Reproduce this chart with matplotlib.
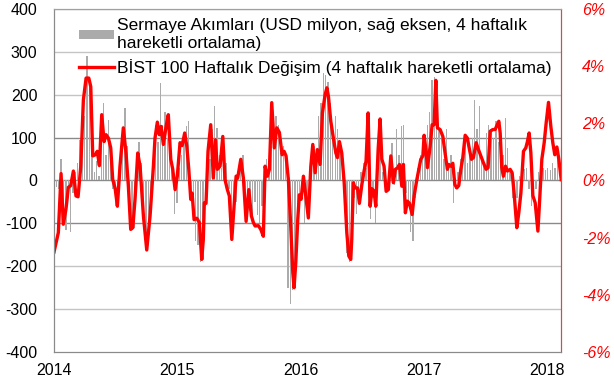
import numpy as np
import matplotlib.pyplot as plt

plt.rcParams['font.family'] = ['Liberation Sans', 'DejaVu Sans']

# haftalık sermaye akımları (USD milyon, 4 haftalık ort.), ocak 2014'ten itibaren
flows = [
    -10, -15, -20, 50, -70, -115, -40, -120, -30, 20,
    40, 95, 110, 150, 290, 220, 170, 20, 45, 10,
    80, 180, 60, 140, 70, -20, -60, -30, 30, 100,
    170, 80, -40, -90, -110, 30, 90, 40, -100, -150,
    -120, -30, 60, 130, 90, 227, 130, 160, 100, 142,
    40, -79, -52, 30, 60, 90, 128, 138, -40, -80,
    -140, -150, -190, -185, -60, 30, 50, 120, 173, 123,
    60, 30, 20, 40, -20, -80, -100, -50, 20, 30,
    60, -60, -90, -70, -100, -50, -80, -100, -60, -20,
    49, 40, 80, 110, 150, 130, 100, 80, 40, -250,
    -288, -255, -220, -90, -60, -30, -100, -60, 20, 60,
    80, 40, 150, 180, 250, 245, 230, 180, 130, 150,
    120, 90, 30, -60, -170, -190, -120, -40, -79, -30,
    20, 40, 30, -60, -90, -40, -100, 40, 70, 20,
    10, -20, 40, 88, -10, 119, 60, 126, 130, -30,
    -60, -121, -141, -40, 30, 60, 60, 100, 130, 160,
    235, 240, 180, 120, 100, 50, 120, 40, 60, -52,
    -20, 20, 50, 60, 90, 40, 60, 100, 188, 119,
    173, 60, 40, 110, 130, 120, 100, 138, 90, 80,
    60, 146, 76, 30, -40, -60, -40, 10, 26, 26,
    30, -20, -60, -40, -20, 20, 20, 30, 25, 30,
    25, 40, 30, 50,
]
flow_start = 2014.0
week = 7 / 365.25

# BIST 100 haftalık değişim (%, 4 haftalık ort.)
bist_year = [
    2014.000, 2014.035, 2014.057, 2014.075, 2014.097, 2014.116, 2014.135, 2014.157,
    2014.178, 2014.195, 2014.217, 2014.238, 2014.260, 2014.282, 2014.298, 2014.314,
    2014.335, 2014.351, 2014.368, 2014.387, 2014.406, 2014.422, 2014.441, 2014.460,
    2014.476, 2014.495, 2014.514, 2014.535, 2014.562, 2014.584, 2014.603, 2014.622,
    2014.639, 2014.657, 2014.679, 2014.698, 2014.725, 2014.752, 2014.779, 2014.806,
    2014.819, 2014.838, 2014.854, 2014.868, 2014.887, 2014.909, 2014.927, 2014.947,
    2014.963, 2014.982, 2015.000, 2015.022, 2015.039, 2015.060, 2015.077, 2015.093,
    2015.109, 2015.120, 2015.136, 2015.158, 2015.179, 2015.198, 2015.211, 2015.219,
    2015.233, 2015.249, 2015.271, 2015.292, 2015.309, 2015.325, 2015.347, 2015.369,
    2015.387, 2015.406, 2015.422, 2015.442, 2015.460, 2015.477, 2015.490, 2015.515,
    2015.536, 2015.558, 2015.580, 2015.601, 2015.617, 2015.631, 2015.658, 2015.677,
    2015.698, 2015.712, 2015.731, 2015.747, 2015.766, 2015.787, 2015.807, 2015.828,
    2015.850, 2015.866, 2015.882, 2015.901, 2015.920, 2015.937, 2015.947, 2015.961,
    2015.977, 2015.990, 2016.004, 2016.023, 2016.042, 2016.063, 2016.083, 2016.099,
    2016.118, 2016.136, 2016.158, 2016.177, 2016.199, 2016.213, 2016.226, 2016.245,
    2016.266, 2016.286, 2016.299, 2016.315, 2016.334, 2016.353, 2016.375, 2016.391,
    2016.407, 2016.415, 2016.428, 2016.442, 2016.461, 2016.477, 2016.497, 2016.515,
    2016.531, 2016.548, 2016.564, 2016.580, 2016.596, 2016.610, 2016.629, 2016.645,
    2016.659, 2016.677, 2016.694, 2016.712, 2016.732, 2016.753, 2016.769, 2016.789,
    2016.802, 2016.821, 2016.834, 2016.850, 2016.866, 2016.883, 2016.905, 2016.921,
    2016.943, 2016.959, 2016.975, 2016.992, 2017.002, 2017.018, 2017.029, 2017.051,
    2017.067, 2017.083, 2017.097, 2017.110, 2017.132, 2017.154, 2017.172, 2017.191,
    2017.202, 2017.219, 2017.235, 2017.251, 2017.267, 2017.283, 2017.300, 2017.316,
    2017.335, 2017.353, 2017.370, 2017.386, 2017.402, 2017.424, 2017.443, 2017.462,
    2017.483, 2017.505, 2017.521, 2017.538, 2017.559, 2017.578, 2017.592, 2017.608,
    2017.619, 2017.632, 2017.645, 2017.662, 2017.678, 2017.700, 2017.716, 2017.732,
    2017.754, 2017.770, 2017.787, 2017.808, 2017.827, 2017.840, 2017.854, 2017.868,
    2017.884, 2017.903, 2017.925, 2017.938, 2017.957, 2017.976, 2017.992, 2018.011,
    2018.030, 2018.046, 2018.062, 2018.079, 2018.095, 2018.114,
]
bist_pct = [
    -2.50, -1.82, 0.24, -1.53, -1.00, -0.24, -0.18, 0.33,
    -0.54, -0.57, 0.50, 2.82, 3.58, 3.58, 3.28, 0.86,
    0.90, 1.02, 0.52, 2.30, 1.36, 1.60, 1.48, 1.14,
    0.03, -0.26, -0.90, 0.50, 1.84, 0.96, -0.20, -1.71,
    -1.65, -0.66, 0.96, 0.50, -1.24, -2.43, -1.24, 0.50,
    1.48, 2.04, 1.60, 1.89, 1.26, 1.89, 2.30, 0.74,
    0.39, -0.32, 0.15, 1.32, 1.22, 1.66, 1.20, 0.39,
    -0.66, -0.44, -1.37, -1.32, -1.47, -2.76, -2.06, -0.78,
    -0.80, 1.02, 1.95, 0.09, 1.42, 0.39, 0.50, 1.54,
    0.03, -0.32, -0.54, -2.06, -0.90, 0.15, 0.09, 0.74,
    0.09, -1.43, -0.32, -1.24, -1.47, -1.59, -1.58, -1.71,
    -1.95, 0.50, 0.15, 0.39, 2.72, 1.14, 1.84, 1.68,
    0.90, 1.02, 0.86, 0.03, -1.59, -3.23, -3.75, -2.87,
    -1.37, -0.50, -0.66, 0.15, -0.54, -1.31, 0.50, 1.26,
    0.27, 1.08, 0.56, 2.36, 3.00, 3.24, 2.94, 2.07,
    1.48, 0.96, 0.80, 1.36, 0.96, -0.03, -1.83, -2.64,
    -2.76, -2.06, -0.08, -0.26, -0.26, -0.80, -0.14, 0.33,
    0.68, 2.36, -0.90, -0.29, -0.38, -0.90, 1.08, 2.15,
    0.74, 0.50, -0.38, -0.32, 0.86, -0.08, 0.39, 0.45,
    0.56, -0.20, 0.56, -1.13, -0.72, -0.80, -1.19, -0.54,
    0.03, 0.39, 0.74, 0.86, 1.58, 1.02, 0.45, 1.20,
    1.95, 1.95, 3.50, 1.84, 1.78, 1.54, 0.96, 0.39,
    0.56, 0.50, 0.60, -0.14, -0.26, -0.18, 0.39, 0.80,
    1.58, 1.48, 1.08, 0.74, 0.80, 1.32, 1.08, 0.86,
    0.62, 0.39, 0.45, 1.72, 1.78, 1.78, 1.92, 2.07,
    1.66, 0.45, 0.15, 0.50, 0.33, 0.39, 0.27, -0.44,
    -1.65, -1.13, -0.44, 1.02, 1.14, 1.36, 1.66, 0.96,
    -0.53, -0.78, -1.77, -0.78, 0.74, 1.32, 2.01, 2.73,
    1.89, 1.32, 0.90, 1.17, 0.74, 0.03,
]

year_ticks = [2014, 2015, 2016, 2017, 2018]
left_ticks = [-400, -300, -200, -100, 0, 100, 200, 300, 400]
left_labels = ['-400', '-300', '-200', '-100', '0', '100', '200', '300', '400']
right_ticks = [-6, -4, -2, 0, 2, 4, 6]
right_labels = ['-6%', '-4%', '-2%', '0%', '2%', '4%', '6%']

flow_x = flow_start + np.arange(len(flows)) * week

fig = plt.figure(figsize=(6.14, 3.84), dpi=100)
ax = fig.add_axes([0.088, 0.083, 0.826, 0.894])
ax2 = ax.twinx()

for v in left_ticks[1:]:
    c = '#8a8a8a' if v in (-100, 0, 100) else '#c4c4c4'
    ax.axhline(v, color=c, lw=1.0, zorder=0)

bars = ax.bar(flow_x, flows, width=0.011, color='#ababab', zorder=2,
              label='Sermaye Akımları (USD milyon, sağ eksen, 4 haftalık\nhareketli ortalama)')
line, = ax2.plot(bist_year, bist_pct, color='#ff0000', lw=2.4,
                 label='BİST 100 Haftalık Değişim (4 haftalık hareketli ortalama)')

ax.set_xlim(2014.0, 2018.114)
ax.set_ylim(-400, 400)
ax2.set_ylim(-6, 6)

ax.set_yticks(left_ticks)
ax.set_yticklabels(left_labels, fontsize=11.5)
ax.set_xticks(year_ticks)
ax.set_xticklabels([str(y) for y in year_ticks], fontsize=11.5)
ax.tick_params(axis='y', length=0, pad=12)
ax.tick_params(axis='x', length=0, pad=8)

ax2.set_yticks(right_ticks)
ax2.set_yticklabels(right_labels, fontsize=11.5, style='italic', color='#ff0000')
ax2.tick_params(axis='y', length=0, pad=15)

for a in (ax, ax2):
    a.spines['left'].set_color('#8a8a8a')
    a.spines['bottom'].set_color('#8a8a8a')
    a.spines['top'].set_color('#a0a0a0')
    a.spines['right'].set_color('#c85050')

ax2.legend([bars, line], [bars.get_label(), line.get_label()],
           loc='upper left', bbox_to_anchor=(0.03, 1.0), frameon=False,
           fontsize=12.5, handlelength=2.0, handleheight=0.45, handletextpad=0.2,
           labelspacing=0.45, borderaxespad=0.15)

fig.savefig('out.png', dpi=100)
